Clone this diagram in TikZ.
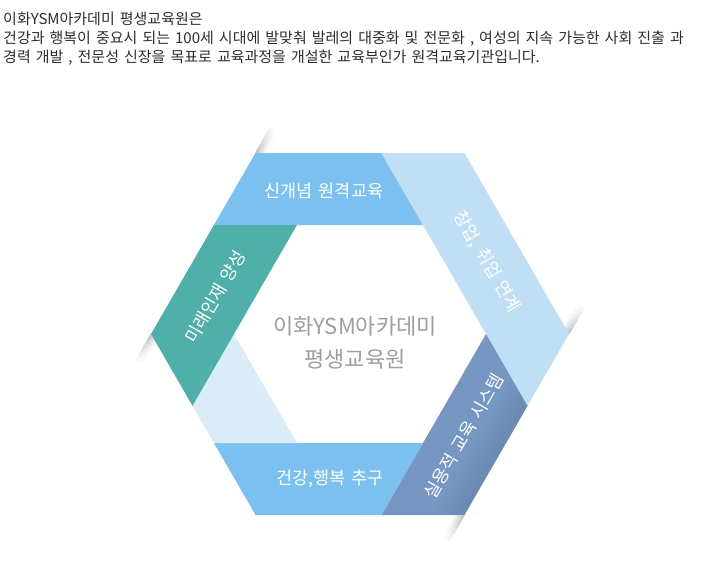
\documentclass[tikz,border=0pt]{standalone}
\usepackage{fontspec}
\newfontfamily\kr{Noto Sans CJK KR}
\newfontfamily\krintro[WordSpace=1.5]{Noto Sans CJK KR}
\usetikzlibrary{calc}
\definecolor{skyband}{RGB}{124,192,240}
\definecolor{paleband}{RGB}{193,223,244}
\definecolor{slateband}{RGB}{118,151,194}
\definecolor{mistband}{RGB}{219,236,249}
\definecolor{tealband}{RGB}{80,176,169}
\definecolor{titlegray}{RGB}{158,158,158}
\definecolor{introtext}{RGB}{45,45,45}

\begin{document}
\begin{tikzpicture}[
  x=1pt, y=-1pt,
  intro/.style={anchor=base west, inner sep=0pt, text=introtext,
                font=\krintro\fontsize{15}{19}\selectfont},
  bandtext/.style={inner sep=0pt, text=white, font=\kr\fontsize{17.5}{20}\selectfont},
  shadowline/.style={line width=1.1pt, black}
]
\useasboundingbox (0,0) rectangle (722,578);

% intro text
\node[intro] (intro1) at (3,25) {이화YSM아카데미 평생교육원은};
\node[intro] (intro2) at (3,44) {건강과 행복이 중요시 되는 100세 시대에 발맞춰 발레의 대중화 및 전문화 , 여성의 지속 가능한 사회 진출 과};
\node[intro] (intro3) at (3,63) {경력 개발 , 전문성 신장을 목표로 교육과정을 개설한 교육부인가 원격교육기관입니다.};

% hexagon corners (outer, inner) and cut points
\coordinate (otl) at (255.5,153);
\coordinate (otr) at (464.5,153);
\coordinate (orr) at (569,334);
\coordinate (obr) at (464.5,515);
\coordinate (obl) at (255.5,515);
\coordinate (oll) at (151,334);
\coordinate (itl) at (297,225);
\coordinate (itr) at (423,225);
\coordinate (irr) at (486,334);
\coordinate (ibr) at (423,443);
\coordinate (ibl) at (297,443);
\coordinate (ill) at (234,334);
\coordinate (ct) at (381.4,153);
\coordinate (cul) at (213.9,225);
\coordinate (cll) at (192.5,405.9);
\coordinate (clr) at (527.5,405.9);
\coordinate (cb) at (381.4,515);
\coordinate (cbl) at (213.9,443);

% fold shadows, fading outwards and along
\foreach \i in {0,...,8} {
  \foreach \j in {0,...,5} {
    \pgfmathsetmacro\op{0.2*(1-\i/9)*(1-\j/6)}
    \pgfmathsetmacro\a{5*\j}
    \draw[shadowline, opacity=\op] ($(otl)+(0.866*\i,0.5*\i)+(0.5*\a,-0.866*\a)$) -- ++(2.5,-4.33);
    \draw[shadowline, opacity=\op] ($(oll)+(0.866*\i,0.5*\i)+(-0.5*\a,0.866*\a)$) -- ++(-2.5,4.33);
    \draw[shadowline, opacity=\op] ($(orr)+(-0.866*\i,-0.5*\i)+(0.5*\a,-0.866*\a)$) -- ++(2.5,-4.33);
    \draw[shadowline, opacity=\op] ($(obr)+(-0.866*\i,-0.5*\i)+(-0.5*\a,0.866*\a)$) -- ++(-2.5,4.33);
  }
}

% bands
\fill[skyband] (otl) -- (ct) -- (itr) -- (cul) -- cycle;
\fill[paleband] (ct) -- (otr) -- (orr) -- (clr) -- (irr) -- (itr) -- cycle;
\fill[slateband] (irr) -- (clr) -- (obr) -- (cb) -- (ibr) -- cycle;
\fill[skyband] (cbl) -- (ibr) -- (cb) -- (obl) -- cycle;
\fill[mistband] (ill) -- (ibl) -- (cbl) -- (cll) -- cycle;
\fill[tealband] (cul) -- (itl) -- (ill) -- (cll) -- (oll) -- cycle;

% darker outer edge of the slate band
\begin{scope}
  \clip (irr) -- (clr) -- (obr) -- (cb) -- (ibr) -- cycle;
  \foreach \d in {0,2,...,28} {
    \pgfmathsetmacro\op{0.08*(1-\d/30)}
    \draw[line width=2pt, black, opacity=\op]
      ($(orr)+(-0.866*\d,-0.5*\d)$) -- ($(obr)+(-0.866*\d,-0.5*\d)+(-20,34.6)$);
  }
\end{scope}

% labels
\node[bandtext] (lbltop) at (324,191) {신개념 원격교육};
\node[bandtext, rotate=-60] (lblupr) at (487,262) {창업, 취업 연계};
\node[bandtext, rotate=60] (lbllwr) at (464,436) {실용적 교육 시스템};
\node[bandtext] (lblbot) at (330,479) {건강,행복 추구};
\node[bandtext, rotate=60] (lblupl) at (215,297) {미래인재 양성};

\node[align=center, inner sep=0pt, text=titlegray,
      font=\kr\fontsize{22}{33}\selectfont] (title) at (355,343)
  {이화YSM아카데미\\평생교육원};
\end{tikzpicture}
\end{document}
